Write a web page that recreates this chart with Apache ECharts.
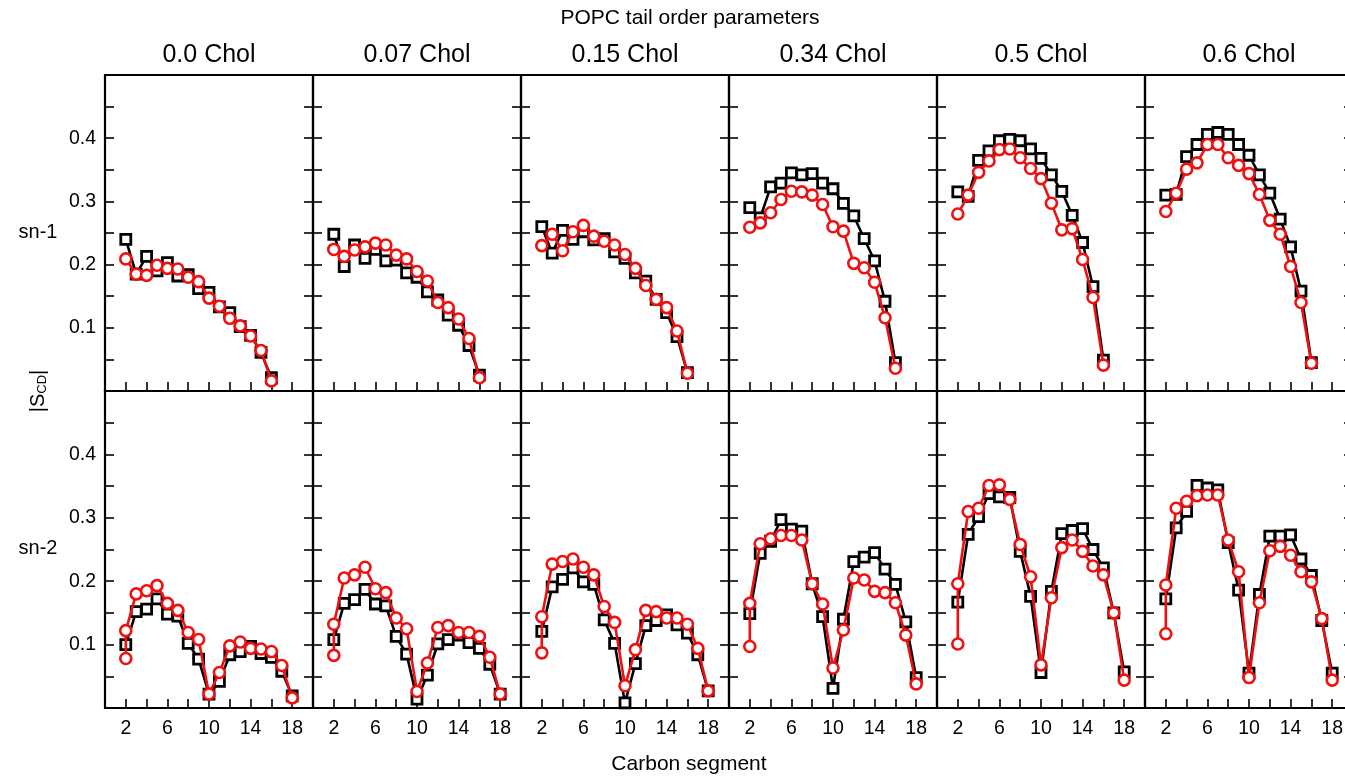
<!DOCTYPE html>
<html><head><meta charset="utf-8">
<script src="https://cdn.jsdelivr.net/npm/echarts@6/dist/echarts.min.js"></script>
<style>html,body{margin:0;padding:0;background:#fff}#c{width:1345px;height:777px}</style>
</head><body><div id="c"></div><script>
const cholLabels = ['0.0 Chol','0.07 Chol','0.15 Chol','0.34 Chol','0.5 Chol','0.6 Chol'];
const xTickLabels = [2,6,10,14,18];
const yTickLabels = [0.1,0.2,0.3,0.4];
const carbonsSn1 = [2,3,4,5,6,7,8,9,10,11,12,13,14,15,16];
const carbonsSn2 = [2,3,4,5,6,7,8,9,10,11,12,13,14,15,16,17,18];
const carbonsSn2Red = [2,2,3,4,5,6,7,8,9,10,11,12,13,14,15,16,17,18];

const sn1Black00 = [0.240,0.185,0.213,0.190,0.203,0.182,0.184,0.162,0.156,0.133,0.124,0.102,0.088,0.061,0.021];
const sn1Red00   = [0.209,0.185,0.183,0.199,0.194,0.193,0.180,0.173,0.147,0.134,0.115,0.103,0.087,0.064,0.016];
const sn1Black07 = [0.248,0.197,0.231,0.210,0.224,0.206,0.207,0.187,0.180,0.157,0.144,0.120,0.104,0.072,0.025];
const sn1Red07   = [0.224,0.213,0.223,0.228,0.234,0.231,0.215,0.209,0.189,0.174,0.140,0.132,0.114,0.083,0.021];
const sn1Black15 = [0.260,0.218,0.254,0.240,0.252,0.239,0.241,0.220,0.210,0.187,0.174,0.145,0.124,0.086,0.029];
const sn1Red15   = [0.230,0.248,0.222,0.252,0.262,0.245,0.237,0.231,0.216,0.194,0.167,0.145,0.132,0.095,0.028];
const sn1Black34 = [0.290,0.274,0.323,0.329,0.345,0.342,0.344,0.329,0.320,0.297,0.277,0.241,0.206,0.142,0.045];
const sn1Red34   = [0.259,0.266,0.282,0.303,0.316,0.315,0.310,0.295,0.260,0.253,0.202,0.195,0.172,0.116,0.036];
const sn1Black50 = [0.315,0.308,0.365,0.380,0.396,0.398,0.396,0.383,0.368,0.342,0.316,0.278,0.235,0.165,0.049];
const sn1Red50   = [0.280,0.310,0.346,0.364,0.382,0.383,0.369,0.352,0.336,0.297,0.255,0.257,0.208,0.148,0.041];
const sn1Black60 = [0.310,0.311,0.371,0.390,0.406,0.409,0.406,0.390,0.373,0.342,0.313,0.272,0.228,0.158,0.045];
const sn1Red60   = [0.284,0.313,0.351,0.361,0.390,0.390,0.369,0.357,0.344,0.311,0.270,0.248,0.197,0.140,0.044];

const sn2Black00 = [0.100,0.152,0.156,0.172,0.148,0.145,0.102,0.077,0.022,0.042,0.084,0.089,0.097,0.086,0.080,0.058,0.019];
const sn2Red00   = [0.078,0.122,0.180,0.185,0.193,0.165,0.154,0.119,0.108,0.022,0.056,0.098,0.104,0.094,0.093,0.089,0.067,0.016];
const sn2Black07 = [0.108,0.165,0.171,0.187,0.164,0.161,0.113,0.085,0.014,0.052,0.101,0.108,0.115,0.103,0.094,0.069,0.022];
const sn2Red07   = [0.083,0.132,0.205,0.210,0.222,0.188,0.182,0.142,0.125,0.026,0.071,0.127,0.130,0.119,0.119,0.113,0.080,0.022];
const sn2Black15 = [0.121,0.191,0.203,0.221,0.199,0.195,0.139,0.102,0.008,0.070,0.130,0.138,0.147,0.131,0.118,0.084,0.027];
const sn2Red15   = [0.087,0.144,0.227,0.231,0.235,0.222,0.210,0.160,0.135,0.035,0.092,0.154,0.152,0.142,0.142,0.132,0.094,0.027];
const sn2Black34 = [0.149,0.244,0.263,0.297,0.282,0.279,0.196,0.144,0.031,0.140,0.231,0.238,0.245,0.219,0.195,0.136,0.048];
const sn2Red34   = [0.097,0.165,0.259,0.267,0.272,0.272,0.265,0.196,0.164,0.063,0.123,0.205,0.202,0.184,0.182,0.166,0.115,0.038];
const sn2Black50 = [0.167,0.274,0.302,0.338,0.333,0.332,0.247,0.176,0.056,0.184,0.275,0.280,0.283,0.250,0.221,0.150,0.057];
const sn2Red50   = [0.101,0.196,0.310,0.315,0.351,0.352,0.329,0.258,0.207,0.068,0.174,0.253,0.265,0.247,0.224,0.210,0.150,0.044];
const sn2Black60 = [0.172,0.284,0.310,0.351,0.347,0.344,0.261,0.186,0.055,0.179,0.271,0.271,0.273,0.235,0.209,0.138,0.055];
const sn2Red60   = [0.117,0.194,0.315,0.326,0.335,0.336,0.336,0.265,0.215,0.048,0.166,0.248,0.255,0.241,0.215,0.199,0.141,0.044];

const blackSn1 = [sn1Black00,sn1Black07,sn1Black15,sn1Black34,sn1Black50,sn1Black60];
const redSn1 = [sn1Red00,sn1Red07,sn1Red15,sn1Red34,sn1Red50,sn1Red60];
const blackSn2 = [sn2Black00,sn2Black07,sn2Black15,sn2Black34,sn2Black50,sn2Black60];
const redSn2 = [sn2Red00,sn2Red07,sn2Red15,sn2Red34,sn2Red50,sn2Red60];

const FONT = '"Liberation Sans", Arial, Helvetica, sans-serif';
const RED = '#f01010';
const colLeft = 105, colW = 208;
const rowTop = [75, 391], rowH = [316, 317];

const zip = (xs, ys) => xs.map((x, i) => [x, ys[i]]);

const grids = [], xAxes = [], yAxes = [], series = [], graphics = [];
for (let r = 0; r < 2; r++) {
  for (let c = 0; c < 6; c++) {
    const gi = grids.length;
    grids.push({left: colLeft + c * colW, top: rowTop[r], width: colW, height: rowH[r],
      outerBoundsMode: 'none', containLabel: false,
      show: true, borderColor: '#000', borderWidth: 2.2, backgroundColor: 'transparent'});
    xAxes.push({type: 'value', gridIndex: gi, min: 0, max: 20, interval: 2,
      axisLine: {show: false}, splitLine: {show: false},
      axisTick: {show: true, inside: true, length: 9, lineStyle: {color: '#000', width: 1.6}},
      axisLabel: {show: r === 1, margin: 11, color: '#000', fontSize: 19.5, fontFamily: FONT,
        showMinLabel: true, showMaxLabel: true, hideOverlap: false,
        formatter: v => xTickLabels.indexOf(Math.round(v)) >= 0 && Math.abs(v - Math.round(v)) < 1e-6 ? String(Math.round(v)) : ''}});
    const yBase = {type: 'value', gridIndex: gi, min: 0, max: 0.5, interval: 0.05,
      axisLine: {show: false}, splitLine: {show: false},
      axisTick: {show: true, inside: true, length: 9, lineStyle: {color: '#000', width: 1.6}}};
    yAxes.push(Object.assign({}, yBase, {position: 'left',
      axisLabel: {show: c === 0, margin: 9, color: '#000', fontSize: 19.5, fontFamily: FONT,
        formatter: v => { const k = Math.round(v * 10) / 10; return yTickLabels.some(t => Math.abs(t - v) < 1e-6) ? k.toFixed(1) : ''; }}}));
    yAxes.push(Object.assign({}, yBase, {position: 'right', axisLabel: {show: false}}));
    const bx = r === 0 ? carbonsSn1 : carbonsSn2;
    const rx = r === 0 ? carbonsSn1 : carbonsSn2Red;
    const by = r === 0 ? blackSn1[c] : blackSn2[c];
    const ry = r === 0 ? redSn1[c] : redSn2[c];
    series.push({type: 'line', xAxisIndex: gi, yAxisIndex: gi * 2, data: zip(bx, by),
      symbol: 'rect', symbolSize: 10, showAllSymbol: true, animation: false,
      lineStyle: {color: '#000', width: 2.6},
      itemStyle: {color: '#fff', borderColor: '#000', borderWidth: 2.8}, z: 3});
    series.push({type: 'line', xAxisIndex: gi, yAxisIndex: gi * 2, data: zip(rx, ry),
      symbol: 'circle', symbolSize: 11, showAllSymbol: true, animation: false,
      lineStyle: {color: RED, width: 2.6},
      itemStyle: {color: '#fff', borderColor: RED, borderWidth: 2.6}, z: 4});
  }
}

graphics.push({type: 'text', x: 690, y: 18, style: {text: 'POPC tail order parameters', fill: '#000',
  font: '21px ' + FONT, textAlign: 'center', textVerticalAlign: 'middle'}});
cholLabels.forEach((t, c) => graphics.push({type: 'text', x: colLeft + c * colW + colW / 2, y: 55,
  style: {text: t, fill: '#000', font: '25px ' + FONT, textAlign: 'center', textVerticalAlign: 'middle'}}));
graphics.push({type: 'text', x: 38, y: 232, style: {text: 'sn-1', fill: '#000', font: '20px ' + FONT, textAlign: 'center', textVerticalAlign: 'middle'}});
graphics.push({type: 'text', x: 38, y: 548, style: {text: 'sn-2', fill: '#000', font: '20px ' + FONT, textAlign: 'center', textVerticalAlign: 'middle'}});
graphics.push({type: 'text', x: 38, y: 391, rotation: Math.PI / 2,
  style: {text: '{a||S}{b|CD}{a||}', fill: '#000', textAlign: 'center', textVerticalAlign: 'middle',
    rich: {a: {fontSize: 20, fontFamily: FONT, fill: '#000'}, b: {fontSize: 13, fontFamily: FONT, fill: '#000', padding: [9, 0, 0, 0]}}}});
graphics.push({type: 'text', x: 689, y: 764, style: {text: 'Carbon segment', fill: '#000', font: '21px ' + FONT, textAlign: 'center', textVerticalAlign: 'middle'}});

const chart = echarts.init(document.getElementById('c'), null, {renderer: 'canvas'});
chart.setOption({animation: false, backgroundColor: '#fff', grid: grids, xAxis: xAxes, yAxis: yAxes, series: series, graphic: graphics});
</script></body></html>
